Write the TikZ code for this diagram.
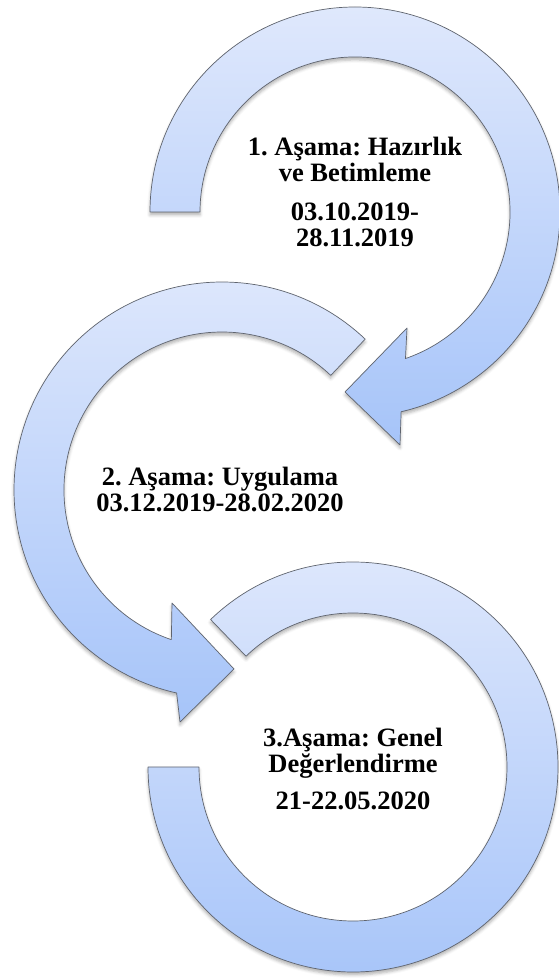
\documentclass[tikz,border=0pt]{standalone}
\usepackage{fontspec}
\setmainfont{Liberation Serif}
\usetikzlibrary{shadows.blur}

\definecolor{ringtop}{RGB}{223,232,252}
\definecolor{ringbot}{RGB}{166,196,249}
\definecolor{ringedge}{RGB}{95,100,110}

\tikzset{
  ringshape/.style={
    draw=ringedge, line width=0.7pt, line join=round,
    top color=ringtop, bottom color=ringbot,
    blur shadow={shadow xshift=0pt, shadow yshift=-3pt,
                 shadow blur radius=3pt, shadow opacity=30}
  },
  stagetext/.style={
    align=center, inner sep=0pt, text=black,
    font=\frenchspacing\bfseries\fontsize{26.5}{26}\selectfont
  }
}

\begin{document}
\begin{tikzpicture}[x=1pt,y=1pt]
  \useasboundingbox (0,0) rectangle (558,978);

  % Stage 1: arc from the left, over the top, arrow pointing down-left
  \path[ringshape, shift={(355,766)}]
    (180:205) arc[start angle=180, end angle=-77, radius=205pt]
    -- (400-355,533-766) -- (345-355,586-766) -- (407-355,650-766)
    -- (-71:155) arc[start angle=-71, end angle=180, radius=155pt]
    -- cycle;

  % Stage 2: arc from the upper right, over the left, arrow pointing right
  \path[ringshape, shift={(222,488)}]
    (46.5:208) arc[start angle=46.5, end angle=257.4, radius=208pt]
    -- (180-222,256-488) -- (234-222,309-488) -- (172-222,375-488)
    -- (251.3:158) arc[start angle=251.3, end angle=46.5, radius=158pt]
    -- cycle;

  % Stage 3: open ring without a head
  \path[ringshape, shift={(353,211)}]
    (134:205) arc[start angle=134, end angle=-180, radius=205pt]
    -- (180:154) arc[start angle=-180, end angle=134, radius=154pt]
    -- cycle;

  \node[stagetext] (s1) at (355,785.5)
    {1. Aşama: Hazırlık\\ve Betimleme\\[13pt]03.10.2019-\\28.11.2019};
  \node[stagetext] (s2) at (220,488.5)
    {2. Aşama: Uygulama\\03.12.2019-28.02.2020};
  \node[stagetext] (s3) at (353,209.5)
    {3.Aşama: Genel\\Değerlendirme\\[11pt]21-22.05.2020};
\end{tikzpicture}
\end{document}
